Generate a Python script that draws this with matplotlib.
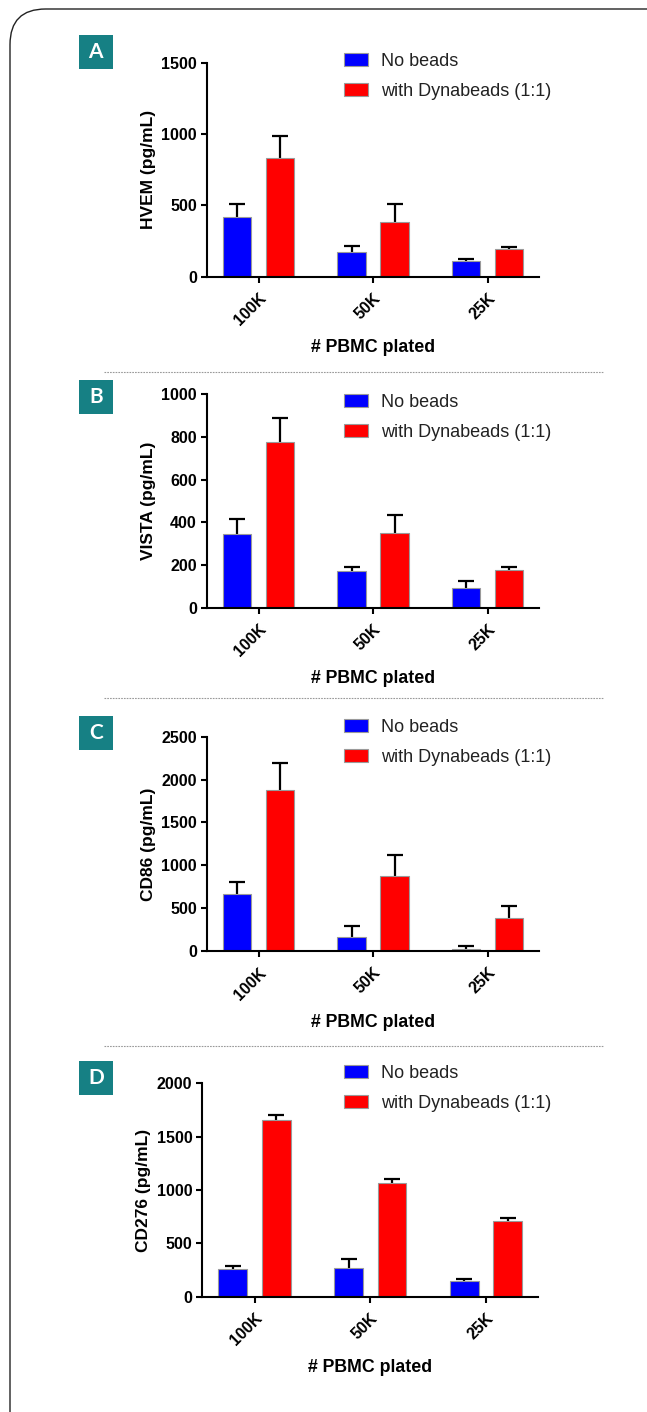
import numpy as np
import matplotlib
matplotlib.use("Agg")
import matplotlib.pyplot as plt
from matplotlib.patches import FancyBboxPatch, Rectangle
from matplotlib.lines import Line2D

plt.rcParams['font.family'] = ['Liberation Sans', 'DejaVu Sans']

groups = ["100K", "50K", "25K"]
series = ["No beads", "with Dynabeads (1:1)"]
colors = ["#0000ff", "#ff0000"]

panel_letters = ["A", "B", "C", "D"]
ylabels = ["HVEM (pg/mL)", "VISTA (pg/mL)", "CD86 (pg/mL)", "CD276 (pg/mL)"]
ymax = [1500, 1000, 2500, 2000]
ystep = [500, 200, 500, 500]

# means (no beads / with dynabeads) and upper error bars, per panel
hvem_no = [416, 175, 108]
hvem_no_err = [94, 42, 16]
hvem_dyna = [830, 381, 194]
hvem_dyna_err = [156, 129, 14]

vista_no = [344, 171, 94]
vista_no_err = [72, 21, 31]
vista_dyna = [778, 350, 177]
vista_dyna_err = [111, 86, 12]

cd86_no = [665, 167, 25]
cd86_no_err = [140, 128, 30]
cd86_dyna = [1877, 878, 388]
cd86_dyna_err = [319, 245, 140]

cd276_no = [259, 272, 144]
cd276_no_err = [29, 78, 25]
cd276_dyna = [1653, 1068, 712]
cd276_dyna_err = [47, 32, 28]

data = [
    (hvem_no, hvem_no_err, hvem_dyna, hvem_dyna_err),
    (vista_no, vista_no_err, vista_dyna, vista_dyna_err),
    (cd86_no, cd86_no_err, cd86_dyna, cd86_dyna_err),
    (cd276_no, cd276_no_err, cd276_dyna, cd276_dyna_err),
]

W, H = 647, 1412
fig = plt.figure(figsize=(W / 100, H / 100), dpi=100)


def fx(px):
    return px / W


def fy(py):
    return 1 - py / H


# rounded frame (cut off at right and bottom)
frame = FancyBboxPatch((fx(10), fy(1460)), fx(680), (1460 - 9) / H,
                       boxstyle="round,pad=0,rounding_size=0.055",
                       transform=fig.transFigure, fill=False,
                       edgecolor="#222222", linewidth=1.0,
                       mutation_aspect=W / H)
fig.patches.append(frame)

# dotted separators
for sy in [372, 698, 1046]:
    fig.add_artist(Line2D([fx(104), fx(603)], [fy(sy), fy(sy)],
                          transform=fig.transFigure, color="#999999",
                          linewidth=0.8, linestyle=(0, (1.5, 1.0))))

# axes pixel boxes: left, right, top, bottom
boxes = [
    (206.7, 539, 62.7, 276.7),
    (206.7, 539, 394.3, 607.7),
    (206.7, 539, 736.7, 951),
    (202, 538, 1083.3, 1296.7),
]
legend_tops = [53, 394, 719, 1065]
letter_tops = [35, 380, 716, 1061]

x = np.arange(len(groups))
bw = 0.249
off = 0.188

for i in range(4):
    l, r, t, b = boxes[i]
    ax = fig.add_axes([fx(l), fy(b), (r - l) / W, (b - t) / H])
    no, no_err, dy, dy_err = data[i]
    for j, (vals, errs) in enumerate([(no, no_err), (dy, dy_err)]):
        pos = x + (off if j else -off)
        # symmetric bars drawn behind the bars so only the upper half shows
        ax.errorbar(pos, vals, yerr=errs, fmt='none',
                    ecolor='black', elinewidth=1.6, capsize=5.5, capthick=1.6,
                    zorder=1)
        ax.bar(pos, vals, width=bw, color=colors[j], edgecolor="#9a9a9a",
               linewidth=0.8, label=series[j], zorder=2)
    ax.set_xlim(-0.455, 2.45)
    ax.set_ylim(0, ymax[i])
    ax.set_yticks(np.arange(0, ymax[i] + 1, ystep[i]))
    ax.set_xticks(x)
    ax.set_xticklabels(groups, rotation=45, ha='right', rotation_mode='anchor')
    for s in ['top', 'right']:
        ax.spines[s].set_visible(False)
    for s in ['left', 'bottom']:
        ax.spines[s].set_linewidth(1.5)
    ax.tick_params(axis='both', width=1.5, length=4, labelsize=11.5, pad=3)
    ax.tick_params(axis='x', pad=6)
    for lab in ax.get_xticklabels() + ax.get_yticklabels():
        lab.set_fontweight('bold')
    ax.set_ylabel(ylabels[i], fontsize=12.5, fontweight='bold', labelpad=4)
    ax.set_xlabel("# PBMC plated", fontsize=12.8, fontweight='bold', labelpad=8)
    ax.patch.set_alpha(0)

    leg = ax.legend(loc='upper left', bbox_to_anchor=(fx(343.7), fy(legend_tops[i])),
                    bbox_transform=fig.transFigure, frameon=False,
                    fontsize=13.0, handlelength=1.32, handleheight=0.68,
                    handletextpad=0.75, labelspacing=0.7, borderpad=0,
                    borderaxespad=0)
    for txt in leg.get_texts():
        txt.set_color("#222222")

    lt = letter_tops[i]
    fig.add_artist(Rectangle((fx(79), fy(lt + 33.7)), 33.7 / W, 33.7 / H,
                             transform=fig.transFigure, facecolor="#168084",
                             edgecolor='none'))
    fig.text(fx(79 + 16.85), fy(lt + 16.85), panel_letters[i], color='white',
             fontsize=15, fontweight='bold', ha='center', va='center',
             family=['Lato', 'DejaVu Sans'])

fig.savefig("out.png", dpi=100)
